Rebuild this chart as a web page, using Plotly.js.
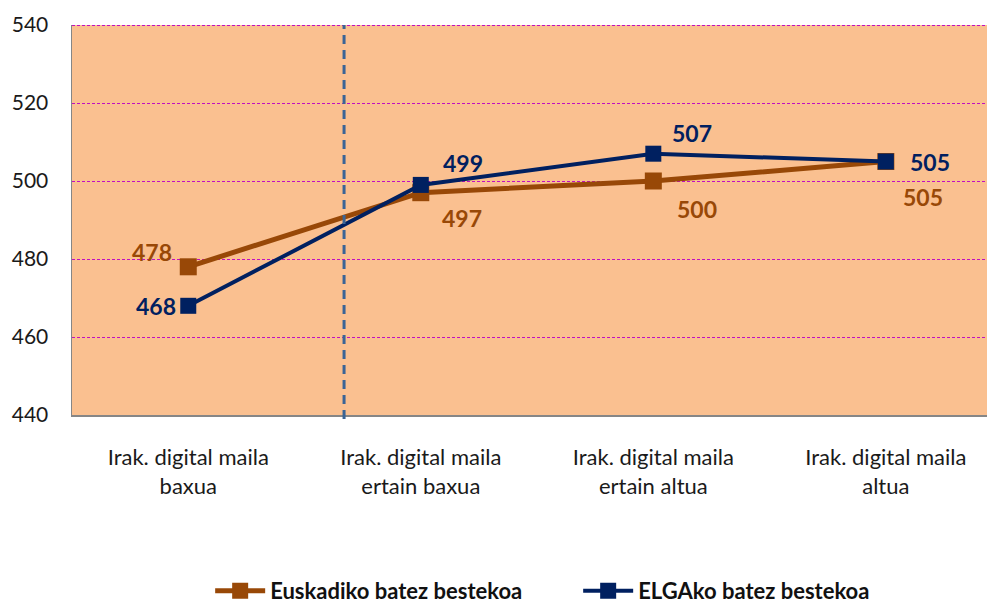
<!DOCTYPE html>
<html>
<head>
<meta charset="utf-8">
<script src="https://cdn.plot.ly/plotly-3.0.1.min.js"></script>
<style>html,body{margin:0;padding:0;background:#fff;}#chart{width:987px;height:604px;}</style>
</head>
<body>
<div id="chart"></div>
<script>
// ---- data ----
const categories = [
  "Irak. digital maila<br>baxua",
  "Irak. digital maila<br>ertain baxua",
  "Irak. digital maila<br>ertain altua",
  "Irak. digital maila<br>altua"
];
const seriesNames = ["Euskadiko batez bestekoa", "ELGAko batez bestekoa"];
const euskadi = [478, 497, 500, 505];
const elga = [468, 499, 507, 505];
const yTicks = [440, 460, 480, 500, 520, 540];

// ---- styles ----
const orange = "#984807";
const navy = "#002060";
const gridColor = "#C010C0";
const euskadiShift = [[-36, 15], [41, -25], [44, -28], [37, -35]];
const elgaShift = [[-32, 0], [42, 22], [39, 21], [44, 0]];

const traces = [
  {
    x: categories, y: euskadi, name: seriesNames[0], type: "scatter", mode: "lines+markers",
    line: {color: orange, width: 5},
    marker: {symbol: "square", size: 17, color: orange, line: {color: orange, width: 0}}
  },
  {
    x: categories, y: elga, name: seriesNames[1], type: "scatter", mode: "lines+markers",
    line: {color: navy, width: 4},
    marker: {symbol: "square", size: 16, color: navy, line: {color: navy, width: 0}}
  }
];

const annotations = [];
categories.forEach((c, i) => {
  annotations.push({x: c, y: euskadi[i], xref: "x", yref: "y", text: String(euskadi[i]),
    showarrow: false, xshift: euskadiShift[i][0], yshift: euskadiShift[i][1],
    font: {family: "Lato, sans-serif", size: 23, color: orange, weight: "bold"}});
  annotations.push({x: c, y: elga[i], xref: "x", yref: "y", text: String(elga[i]),
    showarrow: false, xshift: elgaShift[i][0], yshift: elgaShift[i][1],
    font: {family: "Lato, sans-serif", size: 23, color: navy, weight: "bold"}});
});

// crisp dashed gridlines (half-pixel aligned) at each y tick above the baseline
const shapes = yTicks.slice(1).map(v => ({
  type: "line", xref: "paper", x0: 0, x1: 1,
  yref: "y", ysizemode: "pixel", yanchor: v, y0: -0.5, y1: -0.5,
  line: {color: gridColor, width: 1, dash: "3px,2px"}, layer: "below"
}));
shapes.push({
  type: "line", xref: "x", yref: "paper", x0: 0.67, x1: 0.67, y0: -0.01, y1: 1,
  line: {color: "#3A6496", width: 3, dash: "9px,6px"}, layer: "above"
});

const layout = {
  width: 987, height: 604,
  margin: {l: 72, r: 0, t: 25, b: 189, autoexpand: false},
  paper_bgcolor: "#ffffff",
  plot_bgcolor: "#FAC090",
  font: {family: "Lato, sans-serif", color: "#1a1a1a"},
  showlegend: true,
  legend: {
    orientation: "h", x: 0.151, xanchor: "left", y: -0.505, yanchor: "bottom",
    font: {family: "Lato, sans-serif", size: 22, color: "#111", weight: "bold"},
    itemwidth: 50, entrywidth: 303, entrywidthmode: "pixels", traceorder: "normal"
  },
  xaxis: {
    type: "category", range: [-0.5, 3.435],
    showgrid: false, zeroline: false,
    showline: true, linecolor: "#868686", linewidth: 1.5,
    ticks: "", ticklabelstandoff: 22,
    tickfont: {family: "Lato, sans-serif", size: 22, color: "#1a1a1a"},
    fixedrange: true
  },
  yaxis: {
    range: [440, 540], tickvals: yTicks, ticktext: yTicks.map(String),
    showgrid: false,
    zeroline: false, showline: true, linecolor: "#868686", linewidth: 1.5,
    ticks: "", ticklabelstandoff: 18,
    tickfont: {family: "Lato, sans-serif", size: 21, color: "#1a1a1a"},
    fixedrange: true
  },
  shapes: shapes,
  annotations: annotations
};

Plotly.newPlot("chart", traces, layout, {displayModeBar: false, staticPlot: true});
</script>
</body>
</html>
